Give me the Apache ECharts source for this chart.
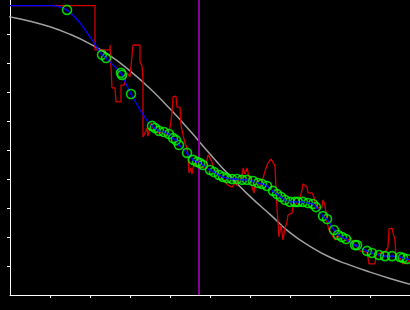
<!DOCTYPE html>
<html>
<head>
<meta charset="utf-8">
<script src="https://cdn.jsdelivr.net/npm/echarts@6/dist/echarts.min.js"></script>
<style>
html,body{margin:0;padding:0;background:#000;}
#chart{width:410px;height:310px;}
</style>
</head>
<body>
<div id="chart"></div>
<script>
// Fitted (gray) curve
const fitX = [-2.5, 0, 5, 10, 15, 20, 25, 30, 35, 40, 45, 50, 55, 60, 65, 70, 75, 80, 85, 90, 95, 100];
const fitY = [96.5, 95.9, 94.4, 92.5, 89.9, 86.6, 82.5, 77.3, 71.2, 64.2, 56.6, 48.6, 41.0, 34.0, 27.8, 21.5, 16.8, 13.0, 10.3, 7.9, 5.7, 3.7];

// Raw (red) signal
const rawX = [0, 21.25, 21.25, 25, 25, 25.25, 25.5, 26.25, 26.5, 27.75, 27.75, 28.5, 29.25, 30, 30.5, 30.75, 32.5, 32.5, 33, 33.25,
  33.25, 33.75, 34.25, 34.5, 35, 35.25, 35.75, 36.75, 38, 38.75, 39.25, 40, 40.5, 40.75, 41.5, 41.75, 42.5, 42.75, 43.25, 43.75,
  44.25, 44.5, 44.75, 45.25, 45.5, 45.75, 46, 46.75, 48.25, 49, 49.5, 50, 50.5, 50.75, 51.75, 52.5, 53.25, 54, 54.5, 55.5,
  56, 56.5, 56.75, 57.25, 58, 58.25, 58.75, 59.25, 59.75, 60.25, 60.75, 61, 61.25, 62, 62.5, 63.25, 64, 64.5, 65.25, 65.75,
  66.25, 66.5, 66.75, 67.25, 67.75, 68.25, 68.75, 69.25, 69.5, 70.5, 70.75, 71.75, 72.5, 73, 73.25, 74.25, 74.5, 75.5, 76, 76.25,
  77, 78, 78.25, 78.75, 79.25, 79.75, 80.25, 80.75, 81.25, 81.75, 82.5, 83.25, 84.25, 85.25, 85.75, 86.75, 87.5, 89.25, 89.5, 89.75,
  91.25, 91.5, 92.75, 93.75, 94.5, 94.75, 95.5, 95.75, 96.25, 96.5, 97.5, 98, 98.25, 99.25, 100];
const rawY = [99.8, 99.8, 84.5, 84.5, 86.2, 86.2, 71.4, 71.4, 66.6, 66.6, 72.4, 72.4, 76.6, 75.2, 75.2, 86.2, 86.2, 80.3, 79.0, 74.1,
  54.5, 55.9, 57.6, 54.8, 57.9, 59.3, 57.6, 55.9, 56.2, 54.8, 55.2, 57.6, 62.8, 68.3, 68.6, 64.8, 64.8, 58.6, 55.2, 52.4,
  50.7, 47.6, 42.1, 43.8, 41.7, 43.8, 45.5, 44.8, 43.8, 44.8, 48.3, 47.2, 45.9, 44.1, 42.4, 41.0, 40.3, 38.6, 37.9, 37.2,
  37.2, 39.0, 37.6, 39.7, 40.7, 43.8, 41.7, 43.8, 40.7, 38.6, 36.2, 35.2, 37.9, 39.7, 37.2, 40.3, 43.8, 45.5, 46.9, 46.6,
  44.5, 36.2, 30.3, 20.0, 24.1, 19.0, 23.1, 25.2, 27.6, 28.3, 30.3, 31.7, 33.4, 36.2, 38.3, 37.2, 35.2, 35.2, 33.8, 31.7,
  30.0, 30.3, 32.8, 31.0, 25.2, 22.4, 21.7, 20.0, 19.0, 20.3, 20.0, 19.7, 18.6, 19.7, 17.9, 16.6, 15.2, 14.8, 12.8, 10.7,
  10.7, 13.8, 14.5, 14.8, 16.6, 22.8, 23.1, 21.4, 19.0, 12.8, 12.8, 13.1, 10.7, 11.0, 12.1];

// Smoothed (blue) trace
const smoothX = [0, 10.5, 12, 13.25, 14.25, 16, 17.5, 20, 22.5, 23, 24, 26, 27.75, 28, 29, 30.25, 32.5, 34, 35, 35.5,
  36.25, 37.25, 38.5, 39.75, 40.75, 41.5, 42.25, 44.25, 45.75, 46.75, 47.5, 48.25, 50, 51, 52.25, 53.25, 54.25, 55.5, 56.75, 58,
  59.25, 60.75, 62, 63, 64.25, 65.75, 66.75, 67.75, 68.75, 70, 71.25, 72, 73.25, 74.5, 75.75, 76.5, 78.25, 79.25, 81, 82,
  83, 84, 85.25, 86.25, 86.75, 89.25, 90.5, 92.25, 93.75, 95.5, 97.5, 98.25, 99.25, 100.5];
const smoothY = [99.8, 99.8, 99.5, 99.0, 98.3, 96.2, 93.8, 89.0, 83.8, 82.8, 81.7, 79.0, 76.6, 75.9, 72.8, 69.3, 63.8, 60.7, 58.6, 58.3,
  57.6, 56.6, 56.2, 55.5, 54.1, 53.4, 51.7, 49.0, 46.6, 45.9, 45.5, 44.8, 43.1, 42.4, 41.4, 40.7, 40.3, 40.0, 40.0, 39.7,
  39.7, 39.3, 38.6, 38.3, 37.6, 35.9, 34.8, 33.8, 32.8, 32.1, 32.1, 32.1, 32.1, 31.7, 31.4, 30.3, 27.2, 26.2, 22.4, 20.7,
  20.0, 19.3, 17.9, 17.2, 17.2, 15.2, 14.5, 13.8, 13.4, 13.4, 13.1, 12.8, 12.4, 12.1];

// Sample markers (green circles)
const markX = [14.25, 23, 24, 27.75, 28, 30.25, 35.5, 36.25, 37.25, 38.5, 39.75, 40.75, 41.5, 42.25, 44.25, 45.75, 46.75, 47.5, 48.25, 50,
  51, 52.25, 53.25, 54.25, 55.5, 56.75, 58, 59.25, 60.75, 62, 63, 64.25, 65.75, 66.75, 67.75, 68.75, 70, 71.25, 72, 73.25,
  74.5, 75.75, 76.5, 78.25, 79.25, 81, 82, 83, 84, 86.25, 86.75, 89.25, 90.5, 92.25, 93.75, 95.5, 97.5, 98.25, 99.25];
const markY = [98.3, 82.8, 81.7, 76.6, 75.9, 69.3, 58.3, 57.6, 56.6, 56.2, 55.5, 54.1, 53.4, 51.7, 49.0, 46.6, 45.9, 45.5, 44.8, 43.1,
  42.4, 41.4, 40.7, 40.3, 40.0, 40.0, 39.7, 39.7, 39.3, 38.6, 38.3, 37.6, 35.9, 34.8, 33.8, 32.8, 32.1, 32.1, 32.1, 32.1,
  31.7, 31.4, 30.3, 27.2, 26.2, 22.4, 20.7, 20.0, 19.3, 17.2, 17.2, 15.2, 14.5, 13.8, 13.4, 13.4, 13.1, 12.8, 12.4];

// Vertical reference line
const thresholdX = 47.1;

// Tick positions
const xTicks = [10, 20, 30, 40, 50, 60, 70, 80, 90, 100];
const yTicks = [10, 20, 30, 40, 50, 60, 70, 80, 90];

const zip = (xs, ys) => xs.map((x, i) => [x, ys[i]]);

const chart = echarts.init(document.getElementById('chart'), null, {renderer: 'canvas'});
const axisCommon = {
  type: 'value',
  splitLine: {show: false},
  axisLabel: {show: false},
  axisLine: {show: true, onZero: false, lineStyle: {color: '#ffffff', width: 1}},
};
chart.setOption({
  backgroundColor: '#000000',
  animation: false,
  grid: {left: 10, right: 0, top: 0, bottom: 15, containLabel: false, outerBoundsMode: 'none'},
  xAxis: Object.assign({}, axisCommon, {
    min: 0, max: 100, interval: 10,
    axisTick: {show: true, length: 3, customValues: xTicks, lineStyle: {color: '#ffffff', width: 1}}
  }),
  yAxis: Object.assign({}, axisCommon, {
    min: 0, max: 101.72, interval: 10,
    axisTick: {show: true, length: 3, customValues: yTicks, lineStyle: {color: '#ffffff', width: 1}}
  }),
  series: [
    {
      name: 'fit', type: 'line', data: zip(fitX, fitY), smooth: true, showSymbol: false, clip: true,
      lineStyle: {color: '#a0a0a0', width: 1.5}, z: 1
    },
    {
      name: 'raw', type: 'line', data: zip(rawX, rawY), showSymbol: false, clip: true,
      lineStyle: {color: '#d40000', width: 1.3}, z: 2
    },
    {
      name: 'threshold', type: 'line', data: [], z: 3,
      markLine: {
        silent: true, symbol: ['none', 'none'], label: {show: false},
        lineStyle: {color: '#8b009b', width: 2, type: 'solid'},
        data: [{xAxis: thresholdX}]
      }
    },
    {
      name: 'smooth', type: 'line', data: zip(smoothX, smoothY), showSymbol: false, clip: true,
      lineStyle: {color: '#0000ff', width: 1.3}, z: 4
    },
    {
      name: 'samples', type: 'scatter', data: zip(markX, markY), symbol: 'circle', symbolSize: 9,
      itemStyle: {color: 'rgba(0,0,0,0)', borderColor: '#00ff00', borderWidth: 1.6}, z: 5
    },
    {
      name: 'sampleDots', type: 'scatter', data: zip(markX, markY), symbol: 'circle', symbolSize: 2.5,
      itemStyle: {color: '#0000ff'}, z: 6
    }
  ]
});
</script>
</body>
</html>
